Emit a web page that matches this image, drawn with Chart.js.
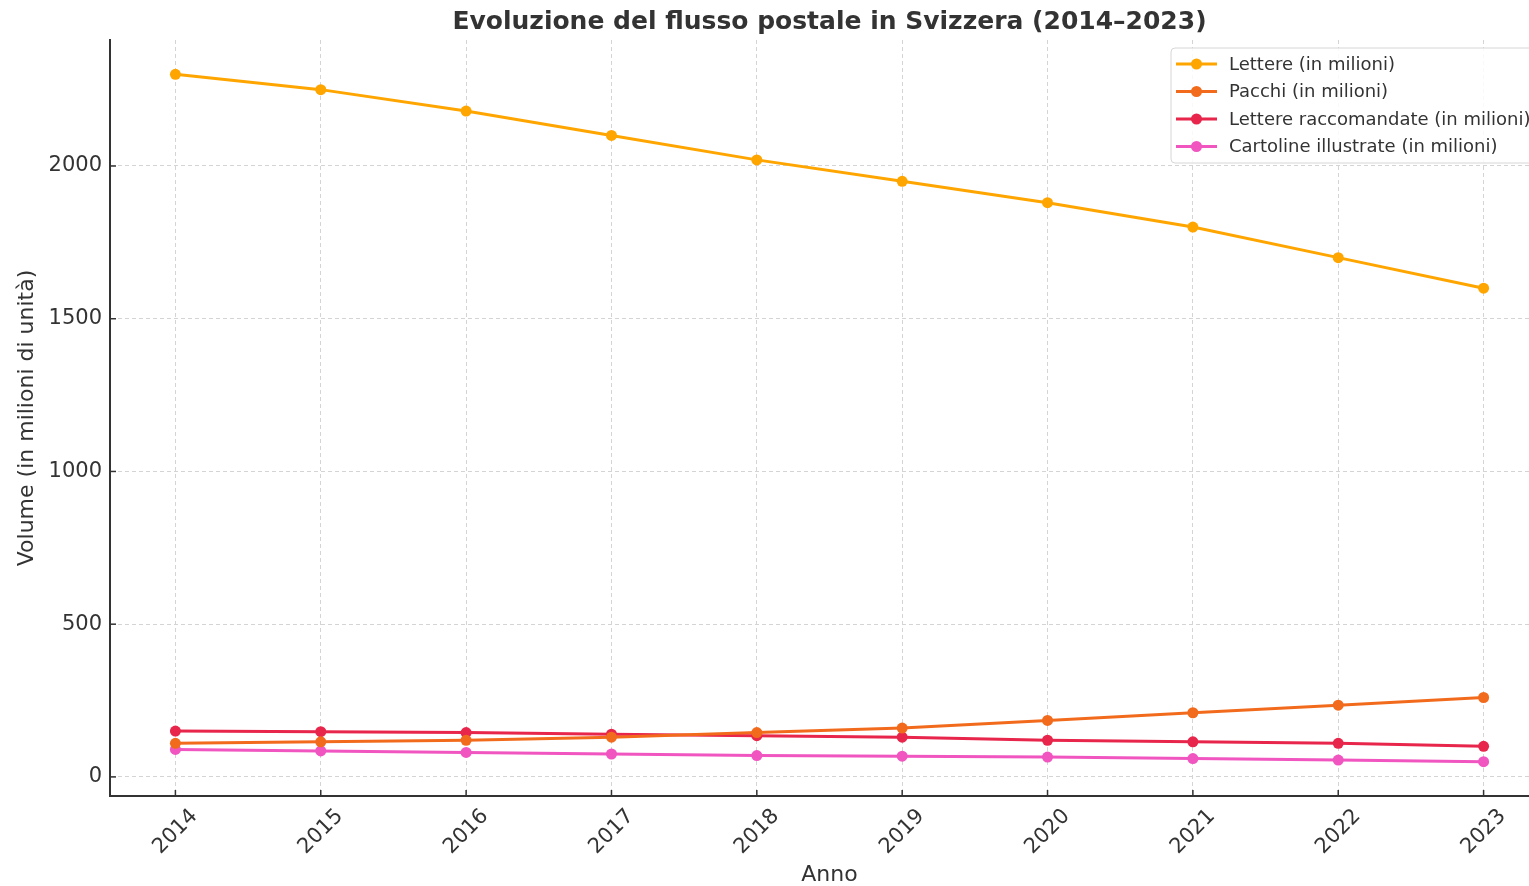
<!DOCTYPE html>
<html>
<head>
<meta charset="utf-8">
<script src="https://cdn.jsdelivr.net/npm/chart.js@4"></script>
<style>
  html, body { margin: 0; padding: 0; background: #fff; overflow: hidden; }
  #wrap { width: 1529px; height: 886px; overflow: hidden; }
</style>
</head>
<body>
<div id="wrap"><canvas id="chart" width="1560" height="886"></canvas></div>
<script>
const anni = [2014, 2015, 2016, 2017, 2018, 2019, 2020, 2021, 2022, 2023];
const lettere = [2300, 2250, 2180, 2100, 2020, 1950, 1880, 1800, 1700, 1600];
const pacchi = [110, 115, 120, 130, 145, 160, 185, 210, 235, 260];
const raccomandate = [150, 148, 145, 140, 135, 130, 120, 115, 110, 100];
const cartoline = [90, 85, 80, 75, 70, 68, 65, 60, 55, 50];
const yTicks = [0, 500, 1000, 1500, 2000];

const serie = [
  { label: 'Lettere (in milioni)', values: lettere, color: '#FFA500' },
  { label: 'Pacchi (in milioni)', values: pacchi, color: '#F26B1D' },
  { label: 'Lettere raccomandate (in milioni)', values: raccomandate, color: '#E8254B' },
  { label: 'Cartoline illustrate (in milioni)', values: cartoline, color: '#F055C0' }
];

const FONT = "'DejaVu Sans', sans-serif";
const TEXT = '#333';

// legenda dentro l'area del grafico, in alto a destra
const legendaInterna = {
  id: 'legendaInterna',
  afterDraw(chart) {
    const ctx = chart.ctx;
    ctx.save();
    const x0 = 1171, y0 = 48, h = 115;
    ctx.beginPath();
    ctx.roundRect(x0, y0, 420, h, 4);
    ctx.fillStyle = 'rgba(255,255,255,0.85)';
    ctx.fill();
    ctx.strokeStyle = '#d6d6d6';
    ctx.lineWidth = 1;
    ctx.stroke();
    chart.data.datasets.forEach((ds, i) => {
      const y = 64 + i * 27.5;
      ctx.strokeStyle = ds.borderColor;
      ctx.lineWidth = 3;
      ctx.beginPath();
      ctx.moveTo(1176, y);
      ctx.lineTo(1217, y);
      ctx.stroke();
      ctx.fillStyle = ds.borderColor;
      ctx.beginPath();
      ctx.arc(1196.5, y, 5.5, 0, Math.PI * 2);
      ctx.fill();
      ctx.fillStyle = TEXT;
      ctx.font = '18px ' + FONT;
      ctx.textBaseline = 'middle';
      ctx.fillText(ds.label, 1229, y + 1);
    });
    ctx.restore();
  }
};

// tacche rivolte verso l'interno, come in matplotlib
const tacche = {
  id: 'tacche',
  afterDatasetsDraw(chart) {
    const { ctx, chartArea, scales } = chart;
    ctx.save();
    ctx.strokeStyle = TEXT;
    ctx.lineWidth = 1.5;
    scales.x.ticks.forEach(t => {
      const px = scales.x.getPixelForValue(t.value);
      ctx.beginPath();
      ctx.moveTo(px, chartArea.bottom);
      ctx.lineTo(px, chartArea.bottom - 6);
      ctx.stroke();
    });
    scales.y.ticks.forEach(t => {
      const py = scales.y.getPixelForValue(t.value);
      ctx.beginPath();
      ctx.moveTo(chartArea.left, py);
      ctx.lineTo(chartArea.left + 6, py);
      ctx.stroke();
    });
    ctx.restore();
  }
};

new Chart(document.getElementById('chart'), {
  type: 'line',
  data: {
    datasets: serie.map(s => ({
      label: s.label,
      data: anni.map((a, i) => ({ x: a, y: s.values[i] })),
      borderColor: s.color,
      backgroundColor: s.color,
      borderWidth: 3,
      pointRadius: 5.5,
      pointBorderWidth: 0,
      pointBackgroundColor: s.color,
      tension: 0
    }))
  },
  options: {
    responsive: false,
    animation: false,
    layout: { padding: { left: 0, right: 11, top: 0, bottom: 0 } },
    plugins: {
      legend: { display: false },
      tooltip: { enabled: false },
      title: {
        display: true,
        fullSize: false,
        text: 'Evoluzione del flusso postale in Svizzera (2014–2023)',
        color: TEXT,
        font: { family: FONT, size: 25, weight: 'bold' },
        padding: { top: 7, bottom: 3 }
      }
    },
    scales: {
      x: {
        type: 'linear',
        min: 2013.55,
        max: 2023.45,
        afterBuildTicks: s => { s.ticks = anni.map(v => ({ value: v })); },
        afterFit: s => { s.height = 90; },
        grid: { color: '#d4d4d4', lineWidth: 1, drawTicks: false },
        border: { display: true, color: TEXT, width: 2, dash: [4, 3] },
        ticks: {
          autoSkip: false,
          minRotation: 45,
          maxRotation: 45,
          labelOffset: 19,
          padding: 8,
          color: TEXT,
          font: { family: FONT, size: 21 },
          callback: v => String(v)
        },
        title: {
          display: true,
          text: 'Anno',
          color: TEXT,
          font: { family: FONT, size: 22, lineHeight: 1 },
          padding: { top: 0, bottom: 0 }
        }
      },
      y: {
        min: -62.5,
        max: 2412.5,
        afterBuildTicks: s => { s.ticks = yTicks.map(v => ({ value: v })); },
        afterFit: s => { s.width = 110; },
        grid: { color: '#d4d4d4', lineWidth: 1, drawTicks: false },
        border: { display: true, color: TEXT, width: 2, dash: [4, 3] },
        ticks: {
          padding: 8,
          color: TEXT,
          font: { family: FONT, size: 21 },
          callback: v => String(v)
        },
        title: {
          display: true,
          text: 'Volume (in milioni di unità)',
          color: TEXT,
          font: { family: FONT, size: 22 },
          padding: { top: 14, bottom: 4 }
        }
      }
    }
  },
  plugins: [tacche, legendaInterna]
});
</script>
</body>
</html>
